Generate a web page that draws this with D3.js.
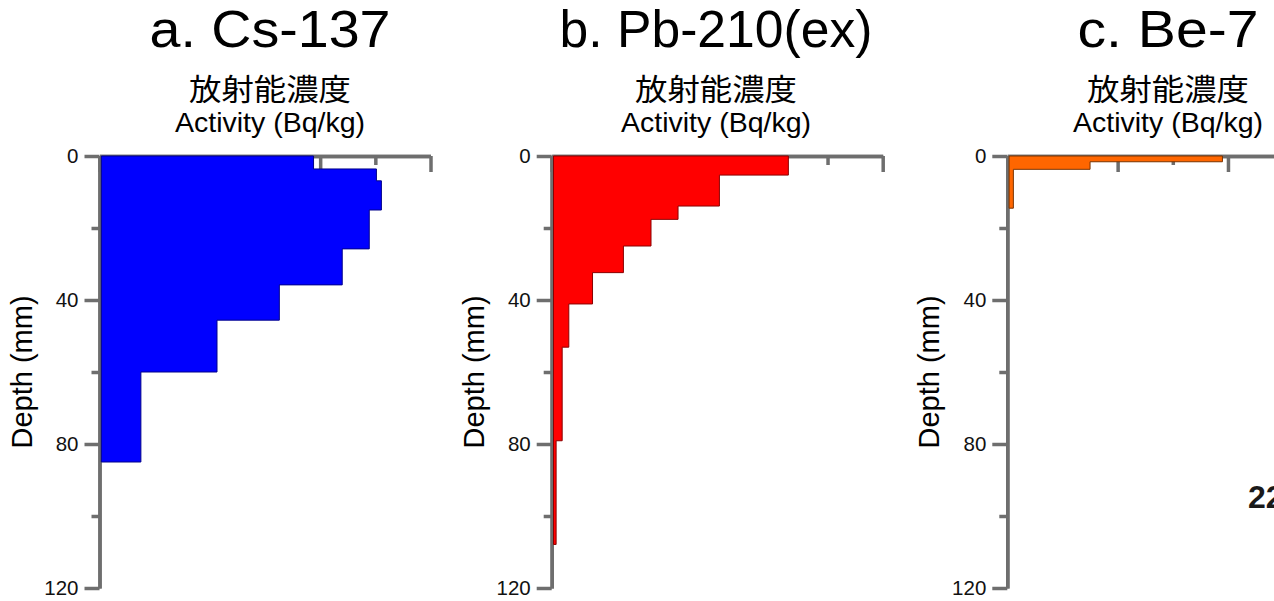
<!DOCTYPE html>
<html>
<head>
<meta charset="utf-8">
<script src="https://cdn.jsdelivr.net/npm/d3@7"></script>
<style>
  body { margin: 0; background: #fff; }
  text { font-family: "Liberation Sans", Arial, sans-serif; }
</style>
</head>
<body>
<div id="chart"></div>
<script>
// ---------------- data
// layer boundaries (mm) and activity per layer (arbitrary Bq/kg units, axis has no labels)
const depthA = [0, 3.6, 6.9, 15, 25.8, 35.8, 45.6, 60, 85]
const cs137 = [1940, 2510, 2555, 2445, 2200, 1630, 1065, 375]

const depthB = [0, 5.3, 13.9, 17.6, 25, 32.4, 41.1, 53.1, 79.1, 107.9]
const pb210 = [2145, 1520, 1145, 900, 650, 370, 155, 95, 40]

const depthC = [0, 1.6, 3.7, 14.5]
const be7 = [1950, 750, 55]

const depthMajor = [0, 40, 80, 120]
const depthMinor = [20, 60, 100]
const actMajor = [0, 1000, 2000, 3000]
const actMinor = [500, 1500, 2500]

const titles = ["a. Cs-137", "b. Pb-210(ex)", "c. Be-7"]
const unitJa = "放射能濃度"
const unitEn = "Activity (Bq/kg)"
const depthLabel = "Depth (mm)"

// ---------------- layout
const width = 1274
const height = 601
const grey = "#6e6e6e"

const panels = [
  { depths: depthA, values: cs137, x0: 99.5, center: 270, titleLen: 241, fill: "#0000ff", edge: "#00008a" },
  { depths: depthB, values: pb210, x0: 551.7, center: 716, titleLen: 313, fill: "#ff0000", edge: "#8a0000" },
  { depths: depthC, values: be7, x0: 1007.3, center: 1168, titleLen: 181, fill: "#ff6600", edge: "#7a3300" }
]

const svg = d3.select("#chart")
  .append("svg")
  .attr("width", width)
  .attr("height", height)

svg.append("rect").attr("width", width).attr("height", height).attr("fill", "#fff")

const yScale = d3.scaleLinear()
  .domain([0, 120])
  .range([156, 588])

panels.forEach((p, i) => {
  const xScale = d3.scaleLinear()
    .domain([0, 3000])
    .range([p.x0, p.x0 + 331])

  const g = svg.append("g")

  //---- top axis, ticks point down into the plot
  const topMajor = d3.axisBottom(xScale).tickValues(actMajor).tickSize(16).tickSizeOuter(0).tickFormat("")
  const topMinor = d3.axisBottom(xScale).tickValues(actMinor).tickSize(9).tickSizeOuter(0).tickFormat("")
  g.append("g").attr("transform", `translate(0,${yScale(0)})`).call(topMajor)
  g.append("g").attr("transform", `translate(0,${yScale(0)})`).call(topMinor)

  //---- depth axis
  const leftMajor = d3.axisLeft(yScale).tickValues(depthMajor).tickSize(15).tickSizeOuter(0).tickPadding(6)
  const leftMinor = d3.axisLeft(yScale).tickValues(depthMinor).tickSize(8).tickSizeOuter(0).tickFormat("")
  g.append("g").attr("transform", `translate(${p.x0},0)`).call(leftMajor)
  g.append("g").attr("transform", `translate(${p.x0},0)`).call(leftMinor)

  g.selectAll(".domain").attr("stroke", grey).attr("stroke-width", 3.5)
  g.selectAll(".tick line").attr("stroke", grey).attr("stroke-width", 3.5)
  g.selectAll(".tick text")
    .attr("font-size", 20.5)
    .attr("font-family", "'Liberation Sans', Arial, sans-serif")
    .attr("fill", "#111")

  //---- step profile, drawn over the axes
  const left = xScale(0) + 1.8
  const pts = [[left, yScale(p.depths[0])]]
  p.values.forEach((v, k) => {
    pts.push([xScale(v), yScale(p.depths[k])])
    pts.push([xScale(v), yScale(p.depths[k + 1])])
  })
  pts.push([left, yScale(p.depths[p.depths.length - 1])])

  g.append("path")
    .attr("d", d3.line()(pts) + "Z")
    .attr("fill", p.fill)
    .attr("stroke", p.edge)
    .attr("stroke-width", 1)

  //---- labels
  svg.append("text")
    .attr("x", p.center)
    .attr("y", 47)
    .attr("text-anchor", "middle")
    .attr("textLength", p.titleLen)
    .attr("lengthAdjust", "spacingAndGlyphs")
    .style("font-size", "52px")
    .text(titles[i])

  svg.append("text")
    .attr("x", p.center)
    .attr("y", 100)
    .attr("text-anchor", "middle")
    .attr("textLength", 162)
    .attr("lengthAdjust", "spacingAndGlyphs")
    .style("font-family", "'Noto Sans CJK JP', sans-serif")
    .style("font-size", "30px")
    .text(unitJa)

  svg.append("text")
    .attr("x", p.center)
    .attr("y", 132)
    .attr("text-anchor", "middle")
    .style("font-size", "28.5px")
    .text(unitEn)

  svg.append("text")
    .attr("transform", `translate(${p.x0 - 68},${yScale(60)}) rotate(-90)`)
    .attr("text-anchor", "middle")
    .style("font-size", "29px")
    .text(depthLabel)
})

// cut-off annotation at the right edge
svg.append("text")
  .attr("x", 1248)
  .attr("y", 508)
  .style("font-size", "32px")
  .style("font-weight", "bold")
  .attr("fill", "#1a1a1a")
  .text("22")
</script>
</body>
</html>
